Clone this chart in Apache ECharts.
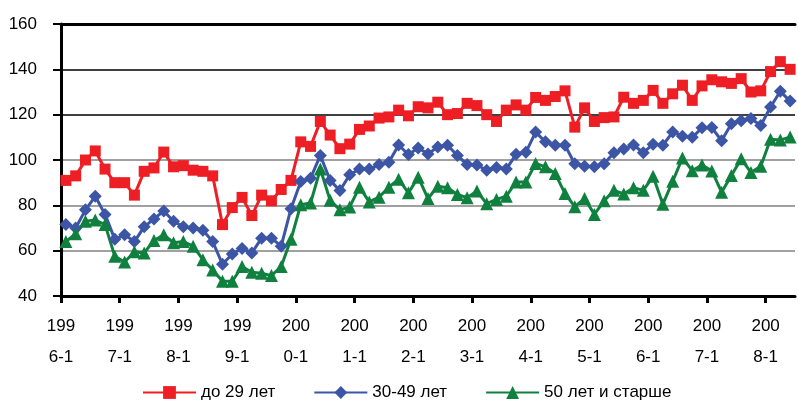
<!DOCTYPE html>
<html>
<head>
<meta charset="utf-8">
<script src="https://cdn.jsdelivr.net/npm/echarts@6/dist/echarts.min.js"></script>
<style>html,body{margin:0;padding:0;background:#fff}#c{width:798px;height:407px}</style>
</head>
<body>
<div id="c"></div>
<script>
// Bimonthly periods 1996-1 ... 2008-5 (75 points)
const periods = [];
for (let y = 1996; y <= 2008; y++) for (let m = 1; m <= 11; m += 2) if (periods.length < 75) periods.push(y + '-' + m);

const tickLabels = ['1996-1','1997-1','1998-1','1999-1','2000-1','2001-1','2002-1','2003-1','2004-1','2005-1','2006-1','2007-1','2008-1'];

const seriesNames = ['до 29 лет', '30-49 лет', '50 лет и старше'];

const under29 = [91,93,100,104,96,90,90,84.5,95,96.5,103.5,97,97.5,95.5,95,93,71.5,79,83.5,75.5,84.5,82,87,91,
  108,106,117,111,105,107,113.5,115,118.5,119,122,119.5,123.5,123,125.5,120,120.5,125,124,120,117,122,124.3,122,
  127.6,126.3,128,130.5,114.5,123,117,118.7,119,127.7,125,126.3,130.7,125,129.2,133,126.3,132.7,135.4,134.5,133.8,135.9,130,130.5,139,143.4,140];

const age30to49 = [71.5,70,78,84,76,65,67,64,70.5,74,77.5,73,70.5,70,69,64,54,58.5,61,59,65.5,65.5,62,78.5,
  90.5,92,102,91,86.5,93.5,96,96,98,99,106.6,102.4,105.3,102.7,105.7,106.5,102,98,97.8,95.5,96.7,96,102.5,103.4,
  112.3,108,106.5,106.5,98.3,97.2,97,98.3,103.2,104.8,106.6,103.2,107,106.5,112.3,110.5,110,114.2,114.3,108.5,116,117.3,118.3,115.2,123.4,130.3,126];

const over50 = [64,67.5,73,73.5,71.5,57.5,55,59.5,59,64.5,67,63.5,64,62,56,51.5,46.5,46.5,53,50.5,50,49,53,65,
  80.3,81,96,82.2,78,79.3,88,81.5,83.6,88,91.5,85.5,92.4,83,88.4,87.8,84.8,83.4,86.3,80.7,82.6,84,90.3,90.3,
  98.5,97,94,85.2,79.4,83,76,82,86.6,85,87.8,86.6,92.8,80.5,90.6,100.9,95.3,97.8,95.2,85.8,93.2,100.5,94.5,97.2,109.2,108.8,110.2];

const colors = ['#ED1F24', '#3C55A5', '#10803F'];
const symbols = ['rect', 'diamond', 'triangle'];
const symbolSizes = [11, 13, 13];
const FONT = '"Liberation Sans", Arial, sans-serif';

function toPoints(arr) { return arr.map((v, i) => [i + 0.5, v]); }

const chart = echarts.init(document.getElementById('c'), null, {renderer: 'canvas'});
chart.setOption({
  animation: false,
  backgroundColor: '#fff',
  grid: {left: 61, top: 24, right: 3, bottom: 111, containLabel: false},
  legend: {
    left: 137, bottom: 1, itemWidth: 53, itemHeight: 16, itemGap: 38,
    textStyle: {fontFamily: FONT, fontSize: 17, color: '#000'},
    data: seriesNames
  },
  xAxis: [{
    type: 'value', min: 0, max: periods.length, interval: 6,
    axisLine: {show: true, onZero: false, lineStyle: {color: '#000', width: 3}},
    axisTick: {show: true, length: 7, lineStyle: {color: '#000', width: 3}},
    splitLine: {show: false},
    axisLabel: {
      showMaxLabel: false, margin: 15, fontFamily: FONT, fontSize: 17, color: '#000', lineHeight: 31,
      formatter: function (v) {
        const s = tickLabels[Math.round(v / 6)];
        if (!s) return '';
        return s.slice(0, 3) + '\n' + s.slice(3);
      }
    }
  }, {
    type: 'value', position: 'top', min: 0, max: periods.length,
    axisLine: {show: true, lineStyle: {color: '#000', width: 3}},
    axisTick: {show: false}, axisLabel: {show: false}, splitLine: {show: false}
  }],
  yAxis: {
    type: 'value', min: 40, max: 160, interval: 20,
    axisLine: {show: true, lineStyle: {color: '#000', width: 3}},
    axisTick: {show: true, length: 8, lineStyle: {color: '#000', width: 2}},
    axisLabel: {margin: 24, fontFamily: FONT, fontSize: 17, color: '#000'},
    splitLine: {show: true, showMinLine: false, lineStyle: {color: ['#808080', '#808080', '#808080', '#000', '#000', '#000'], width: 1.5}}
  },
  series: [under29, age30to49, over50].map((arr, k) => ({
    name: seriesNames[k], type: 'line', data: toPoints(arr),
    symbol: symbols[k], symbolSize: symbolSizes[k], showAllSymbol: true,
    lineStyle: {color: colors[k], width: 3},
    itemStyle: {color: colors[k]},
    emphasis: {disabled: true}
  }))
});
</script>
</body>
</html>
